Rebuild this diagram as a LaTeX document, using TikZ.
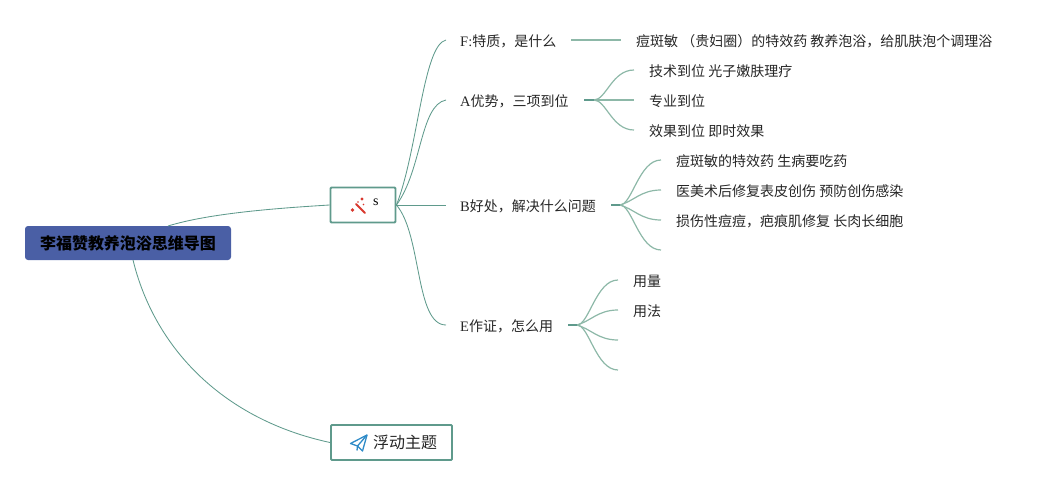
\documentclass[tikz,border=0pt]{standalone}
\usepackage{fontspec}
\usetikzlibrary{calc}
\setmainfont{Noto Sans CJK SC}
\newfontfamily\latinf{Liberation Serif}
\definecolor{boxgreen}{HTML}{5F9A8C}
\definecolor{twig}{HTML}{8DB8A8}
\definecolor{rootblue}{HTML}{4A5FA5}
\definecolor{wandred}{HTML}{D9382E}
\definecolor{planeblue}{HTML}{2E8BC8}
\tikzset{
  lab/.style={anchor=west,inner sep=0pt,font=\fontsize{14}{16}\selectfont,text=black!85},
  topicbox/.style={draw=boxgreen,line width=1.9pt,rounded corners=1pt,fill=white,inner sep=0pt},
  limb/.style={draw=boxgreen,line width=0.85pt},
  branchl/.style={draw=twig,line width=1.2pt},
  hub/.style={draw=boxgreen,line width=1.8pt}
}
\begin{document}
\begin{tikzpicture}[x=1pt,y=-1pt]
\useasboundingbox (0,0) rectangle (1053,485);
% nodes
\node[fill=rootblue,rounded corners=3pt,minimum width=206pt,minimum height=34pt,inner sep=0pt,font=\bfseries\fontsize{16}{18}\selectfont,text=black] (root) at (128,243) {李福赞教养泡浴思维导图};
\node[topicbox,minimum width=65pt,minimum height=35pt] (sbox) at (363,205) {};
\node[topicbox,minimum width=121pt,minimum height=35pt] (fbox) at (391.5,442.5) {};
\node[inner sep=0pt,anchor=west,font=\latinf\fontsize{14}{16}\selectfont] (slabel) at (373,202.5) {s};
\node[inner sep=0pt,anchor=west,font=\fontsize{16}{18}\selectfont,text=black!85] (flabel) at (373,442.5) {浮动主题};
\node[lab] (tF) at (460,41.5) {{\latinf\fontsize{14.5}{16}\selectfont F:}特质，是什么};
\node[lab] (tA) at (460,101.5) {{\latinf\fontsize{14.5}{16}\selectfont A}优势，三项到位};
\node[lab] (tB) at (460,206.5) {{\latinf\fontsize{14.5}{16}\selectfont B}好处，解决什么问题};
\node[lab] (tE) at (460,326.5) {{\latinf\fontsize{14.5}{16}\selectfont E}作证，怎么用};
\node[lab] (f1) at (636,41.5) {痘斑敏 （贵妇圈）的特效药 教养泡浴，给肌肤泡个调理浴};
\node[lab] (a1) at (649,71.5) {技术到位 光子嫩肤理疗};
\node[lab] (a2) at (649,101.5) {专业到位};
\node[lab] (a3) at (649,131.5) {效果到位 即时效果};
\node[lab] (b1) at (676,161.5) {痘斑敏的特效药 生病要吃药};
\node[lab] (b2) at (676,191.5) {医美术后修复表皮创伤 预防创伤感染};
\node[lab] (b3) at (676,221.5) {损伤性痘痘，疤痕肌修复 长肉长细胞};
\node[lab] (e1) at (633,281.5) {用量};
\node[lab] (e2) at (633,311.5) {用法};
% connector anchors
\coordinate (rA) at (168,226);
\coordinate (rB) at (133,260);
\coordinate (lF) at (446,40);
\coordinate (lA) at (446,100);
\coordinate (lB) at (446,205);
\coordinate (lE) at (446,325);
\coordinate (hF) at (571,40);
\coordinate (eF) at (621,40);
\coordinate (hA) at (584,100);
\coordinate (hA2) at (594,100);
\coordinate (eA1) at (634,70);
\coordinate (eA2) at (634,100);
\coordinate (eA3) at (634,130);
\coordinate (hB) at (611,205);
\coordinate (hB2) at (620,205);
\coordinate (eB1) at (661,160);
\coordinate (eB2) at (661,190);
\coordinate (eB3) at (661,220);
\coordinate (eB4) at (661,250);
\coordinate (hE) at (568,325);
\coordinate (hE2) at (577,325);
\coordinate (eE1) at (618,280);
\coordinate (eE2) at (618,310);
\coordinate (eE3) at (618,340);
\coordinate (eE4) at (618,370);
% main branches
\draw[limb] (rA) .. controls (210,213) and (280,208) .. (sbox.west);
\draw[limb] (rB) .. controls (155,350) and (225,420) .. (fbox.west);
\draw[limb] (sbox.east) .. controls (418,150) and (423,45) .. (lF);
\draw[limb] (sbox.east) .. controls (422,170) and (420,105) .. (lA);
\draw[limb] (sbox.east) -- (lB);
\draw[limb] (sbox.east) .. controls (422,235) and (415,325) .. (lE);
% twigs
\foreach \hs/\e in {hA2/eA1,hA2/eA3,hB2/eB1,hB2/eB4,hE2/eE1,hE2/eE4}{
  \draw[branchl] (\hs) .. controls +(12,0) and ($(\e)+(-22,0)$) .. (\e);
}
\draw[branchl] (hF) -- (eF);
\draw[branchl] (hA2) -- (eA2);
\draw[branchl] (hB2) .. controls +(14,-4) and ($(eB2)+(-20,0)$) .. (eB2);
\draw[branchl] (hB2) .. controls +(14,4) and ($(eB3)+(-20,0)$) .. (eB3);
\draw[branchl] (hE2) .. controls +(14,-4) and ($(eE2)+(-20,0)$) .. (eE2);
\draw[branchl] (hE2) .. controls +(14,4) and ($(eE3)+(-20,0)$) .. (eE3);
\draw[hub] (hA) -- (hA2);
\draw[hub] (hB) -- (hB2);
\draw[hub] (hE) -- (hE2);
% wand icon
\draw[wandred,line width=2pt,line cap=round] (356,204) -- (365,213);
\fill[wandred] (352.5,210) circle (1.8pt) (362,199) circle (1.7pt) (363.5,204.5) circle (0.8pt) (358,202) circle (0.9pt);
% plane icon
\draw[planeblue,line width=1.3pt,line join=round] (367,435) -- (350.5,443.5) -- (357.5,446) -- (362.5,451) -- cycle;
\draw[planeblue,line width=1.3pt,line join=round] (367,435) -- (357.5,446) -- (357,450.5);
\end{tikzpicture}
\end{document}
